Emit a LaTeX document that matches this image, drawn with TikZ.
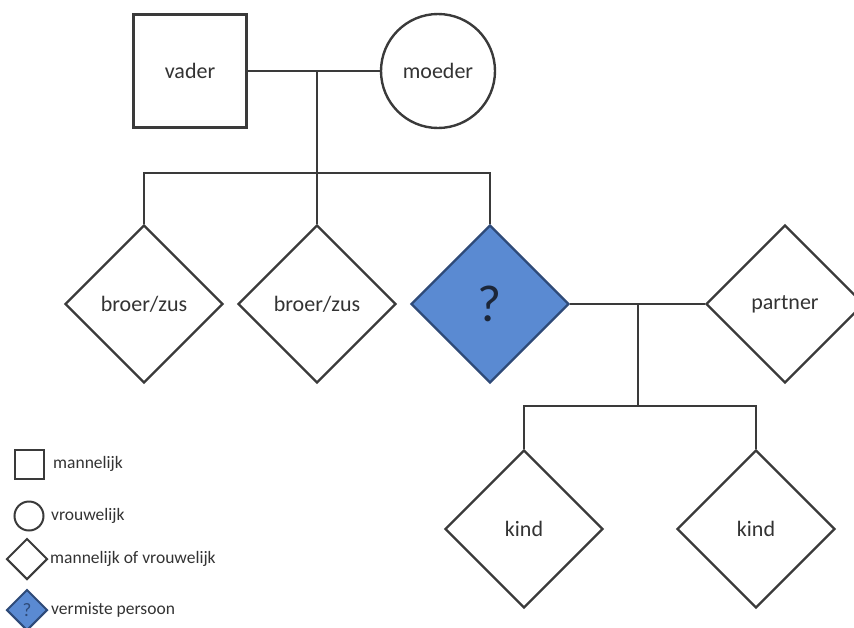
\documentclass[tikz,border=0pt]{standalone}
\usepackage{fontspec}
\setmainfont{Carlito}
\usetikzlibrary{shapes.geometric}
\definecolor{linec}{HTML}{3A3A3A}
\definecolor{missblue}{HTML}{5A8AD2}
\definecolor{missedge}{HTML}{2E4A78}
\definecolor{qmark}{HTML}{1C2638}
\definecolor{textc}{HTML}{333333}
\tikzset{
  person/.style={draw=linec, line width=2.4pt, fill=white, inner sep=0pt, text=textc, font=\fontsize{22}{26}\selectfont},
  male/.style={person, rectangle, minimum size=113pt},
  female/.style={person, circle, minimum size=114pt},
  unknown/.style={person, diamond, aspect=1, minimum size=158pt},
  missing/.style={unknown, fill=missblue, draw=missedge, text=qmark, font=\fontsize{52}{56}\selectfont},
  conn/.style={draw=linec, line width=2.4pt},
  legmale/.style={draw=linec, line width=2pt, rectangle, minimum size=29pt, inner sep=0pt},
  legfemale/.style={draw=linec, line width=2pt, circle, minimum size=29pt, inner sep=0pt},
  legunk/.style={draw=linec, line width=2pt, diamond, aspect=1, minimum size=41pt, inner sep=0pt},
  legmiss/.style={legunk, fill=missblue, draw=missedge, text=missedge, font=\fontsize{19}{22}\selectfont},
  legtext/.style={anchor=west, inner sep=0pt, text=textc, font=\fontsize{17.5}{20}\selectfont}
}
\begin{document}
\begin{tikzpicture}[x=1pt,y=-1pt]
\useasboundingbox (0,0) rectangle (854,627);
% parents
\node[male] (vader) at (190,71) {vader};
\node[female] (moeder) at (438,71) {moeder};
% children
\node[unknown] (bz1) at (144,304) {broer/zus};
\node[unknown] (bz2) at (317,304) {broer/zus};
\node[missing] (miss) at (490,304) {?};
\node[unknown] (partner) at (785,304) {partner};
\node[unknown] (kind1) at (524,529) {kind};
\node[unknown] (kind2) at (756,529) {kind};
% connectors
\coordinate (pm) at (317,71);
\coordinate (sib) at (317,173);
\coordinate (cm) at (638,304);
\coordinate (kb) at (638,406);
\draw[conn] (vader.east) -- (moeder.west);
\draw[conn] (pm) -- (sib);
\draw[conn] (bz1.north) |- (sib);
\draw[conn] (miss.north) |- (sib);
\draw[conn] (sib) -- (bz2.north);
\draw[conn] (miss.east) -- (partner.west);
\draw[conn] (cm) -- (kb);
\draw[conn] (kind1.north) |- (kb);
\draw[conn] (kind2.north) |- (kb);
% legend
\node[legmale] (lm) at (29,464) {};
\node[legtext] (lmt) at (53,464) {mannelijk};
\node[legfemale] (lf) at (29,516) {};
\node[legtext] (lft) at (51,516) {vrouwelijk};
\node[legunk] (lu) at (27,559) {};
\node[legtext] (lut) at (50,559) {mannelijk of vrouwelijk};
\node[legmiss] (lq) at (27,610) {?};
\node[legtext] (lqt) at (51,610) {vermiste persoon};
\end{tikzpicture}
\end{document}
